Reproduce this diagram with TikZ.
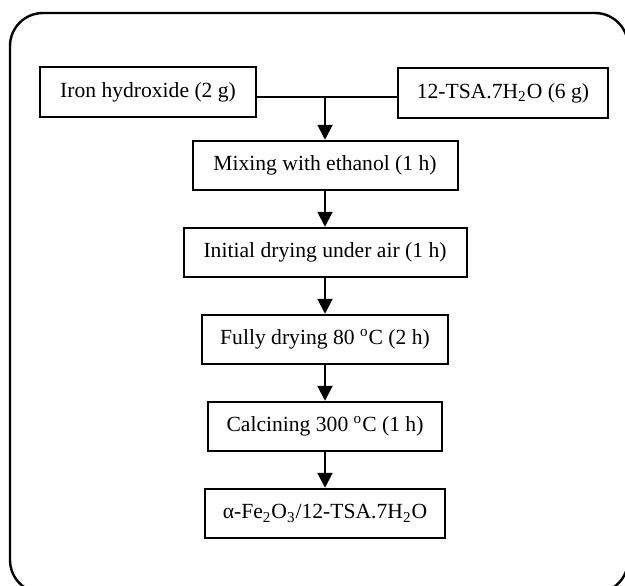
\documentclass[tikz,border=0pt]{standalone}
\usepackage{fontspec}
\setmainfont{Liberation Serif}
\usetikzlibrary{arrows.meta,positioning}
\tikzset{
  stepbox/.style={draw,line width=1pt,minimum height=24.75pt,inner sep=2pt,font=\fontsize{10.8}{13}\selectfont},
  flowarrow/.style={-{Triangle[length=7.5pt,width=7.5pt]},line width=1pt},
  outerframe/.style={line width=1.2pt,rounded corners=16.5pt}
}
\begin{document}
\begin{tikzpicture}[x=0.5pt,y=-0.5pt]
  \useasboundingbox (0,0) rectangle (625,585);
  \draw[outerframe] (10,13) rectangle (628,593);
  \node[stepbox, minimum width=108pt] (iron) at (148,92) {Iron hydroxide (2 g)};
  \node[stepbox, minimum width=105pt] (tsa) at (503,93) {12-TSA.7H\textsubscript{2}O (6 g)};
  \node[stepbox, minimum width=132.5pt] (mix) at (325,165.5) {Mixing with ethanol (1 h)};
  \node[stepbox, minimum width=141.5pt, below=17.75pt of mix] (init) {Initial drying under air (1 h)};
  \node[stepbox, minimum width=123pt, below=17.75pt of init] (dry) {Fully drying 80 \textsuperscript{o}C (2 h)};
  \node[stepbox, minimum width=117pt, below=17.75pt of dry] (calc) {Calcining 300 \textsuperscript{o}C (1 h)};
  \node[stepbox, minimum width=120pt, below=17.75pt of calc] (prod) {α-Fe\textsubscript{2}O\textsubscript{3}/12-TSA.7H\textsubscript{2}O};
  \coordinate (join) at (325,97);
  \draw[line width=1pt] (iron.east |- join) -- (tsa.west |- join);
  \draw[flowarrow] (join) -- (mix);
  \draw[flowarrow] (mix) -- (init);
  \draw[flowarrow] (init) -- (dry);
  \draw[flowarrow] (dry) -- (calc);
  \draw[flowarrow] (calc) -- (prod);
\end{tikzpicture}
\end{document}
